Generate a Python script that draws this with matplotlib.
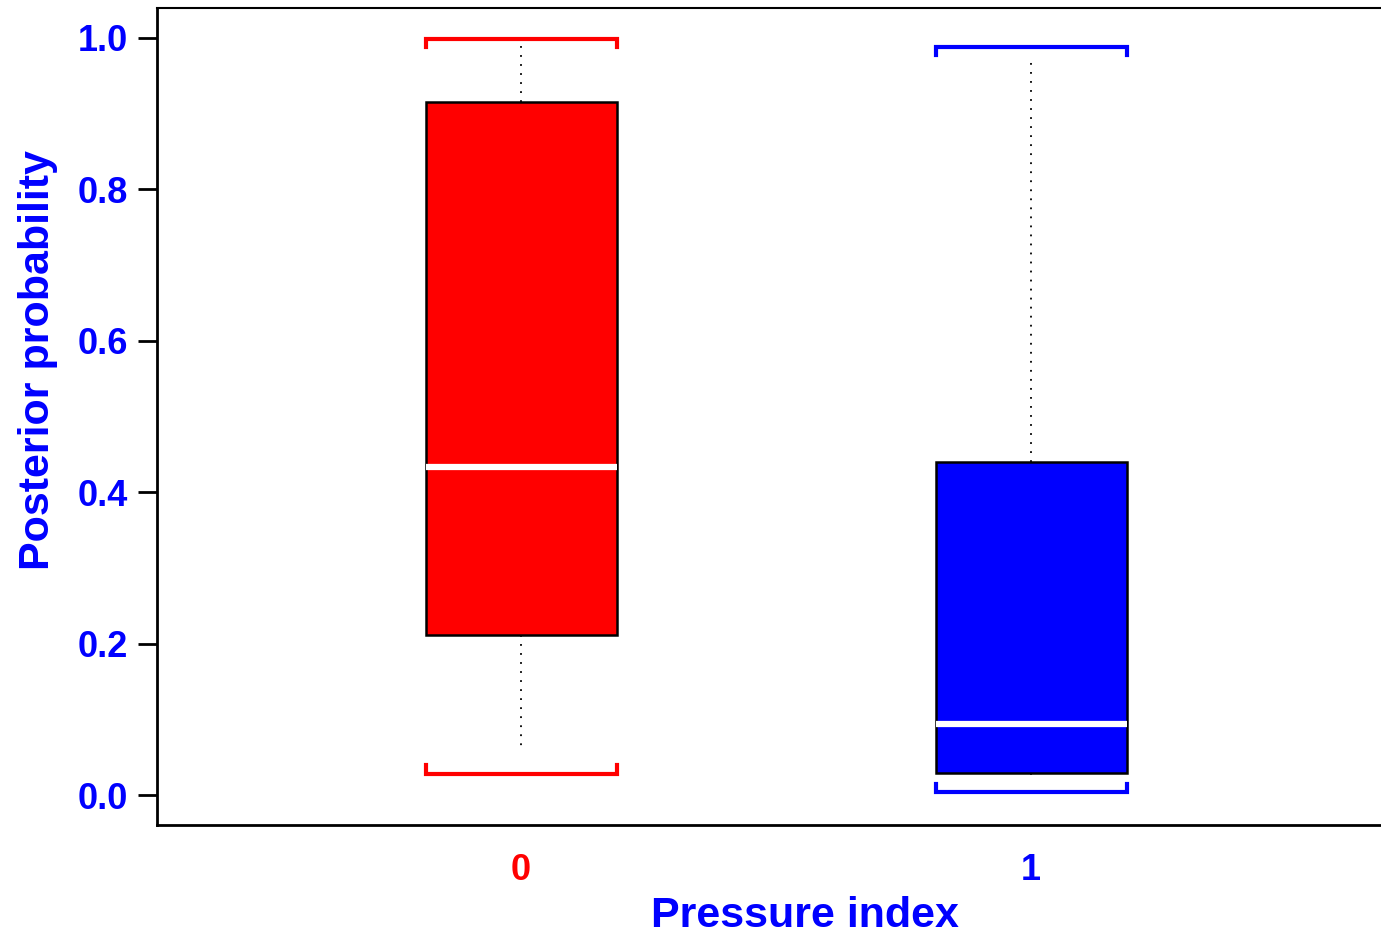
import matplotlib
matplotlib.use('Agg')
import matplotlib.pyplot as plt

plt.rcParams['font.family'] = ['Liberation Sans', 'DejaVu Sans']
plt.rcParams['font.weight'] = 'bold'
plt.rcParams['axes.labelweight'] = 'bold'

# values
groups = ['0', '1']
colors = ['#ff0000', '#0000ff']
q1 = [0.211, 0.029]
med = [0.433, 0.094]
q3 = [0.915, 0.440]
whis_lo = [0.061, 0.022]
whis_hi = [0.990, 0.974]
cap_lo = [0.028, 0.004]
cap_hi = [0.999, 0.988]

fig = plt.figure(figsize=(13.81, 9.40), dpi=100)
# plot region runs slightly past the right edge of the image
ax = fig.add_axes([157 / 1381, 1 - 825 / 940, (1453 - 157) / 1381, (825 - 8) / 940])

pos = [1, 2]
width = 0.375
stats = []
for i in range(len(groups)):
    stats.append(dict(med=med[i], q1=q1[i], q3=q3[i],
                      whislo=whis_lo[i], whishi=whis_hi[i], fliers=[]))

bp = ax.bxp(stats, positions=pos, widths=width, patch_artist=True,
            showcaps=False, showfliers=False,
            medianprops=dict(color='white', lw=4.5, solid_capstyle='butt'),
            whiskerprops=dict(color='black', lw=1.3, linestyle=(0, (1, 4))),
            boxprops=dict(edgecolor='black', lw=1.8))
for patch, c in zip(bp['boxes'], colors):
    patch.set_facecolor(c)

# bracket-like caps
tk = 0.011
for i, p in enumerate(pos):
    l, r = p - width / 2, p + width / 2
    ax.plot([l, l, r, r], [cap_hi[i] - tk, cap_hi[i], cap_hi[i], cap_hi[i] - tk],
            color=colors[i], lw=3, solid_joinstyle='miter')
    ax.plot([l, l, r, r], [cap_lo[i] + tk, cap_lo[i], cap_lo[i], cap_lo[i] + tk],
            color=colors[i], lw=3, solid_joinstyle='miter')

ax.set_xlim(0.286, 2.827)
ax.set_ylim(-0.0396, 1.0396)
ax.set_yticks([0.0, 0.2, 0.4, 0.6, 0.8, 1.0])
ax.set_yticklabels(['0.0', '0.2', '0.4', '0.6', '0.8', '1.0'])
ax.set_xticks(pos)
ax.set_xticklabels(groups)
for lab, c in zip(ax.get_xticklabels(), colors):
    lab.set_color(c)

ax.tick_params(axis='y', length=14, width=2, pad=7, labelsize=26, labelcolor='#0000ff')
ax.tick_params(axis='x', length=0, pad=20, labelsize=26)

ax.spines['right'].set_visible(False)
ax.spines['left'].set_linewidth(2)
ax.spines['bottom'].set_linewidth(2)
ax.spines['top'].set_linewidth(1.5)

ax.set_ylabel('Posterior probability', fontsize=31, color='#0000ff', fontweight='bold')
ax.yaxis.set_label_coords((58 - 157) / 1296, 0.569)
ax.set_xlabel('Pressure index', fontsize=31, color='#0000ff', fontweight='bold', labelpad=6)

fig.savefig('out.png', dpi=100)
